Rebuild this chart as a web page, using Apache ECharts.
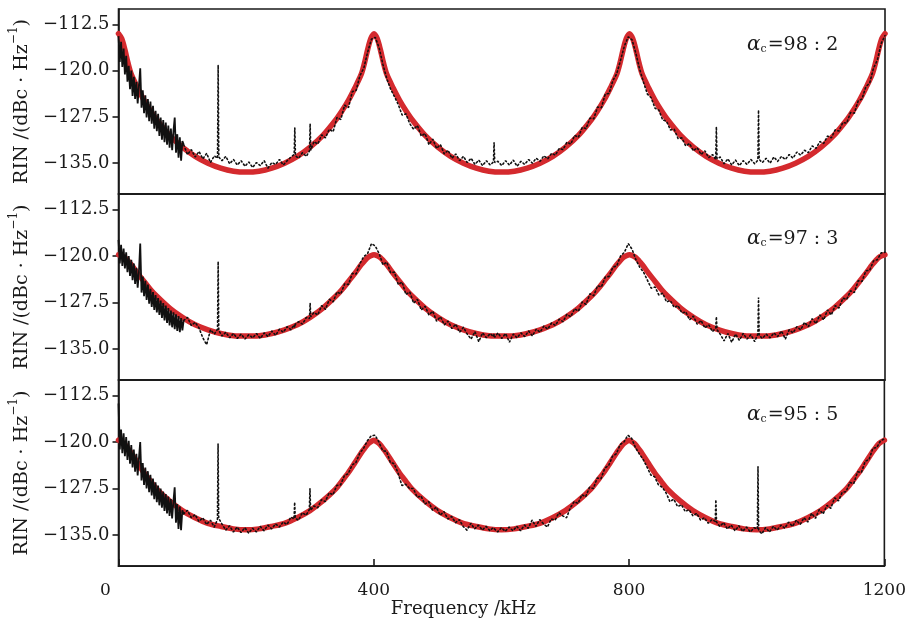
<!DOCTYPE html>
<html>
<head>
<meta charset="utf-8">
<script src="https://cdn.jsdelivr.net/npm/echarts@6/dist/echarts.min.js"></script>
<style>html,body{margin:0;padding:0;background:#fff}#c{width:909px;height:619px}</style>
</head>
<body>
<div id="c"></div>
<script>
// ---------- data ----------
const xTicks = [0, 400, 800, 1200];
const yTicks = [-135, -127.5, -120, -112.5];
const panelLabels = ['98 : 2', '97 : 3', '95 : 5'];

// fitted model (red) sample frequencies, kHz
const fitFreq = [0,5,10,15,20,30,40,50,60,80,100,120,140,160,180,200,220,240,260,280,300,320,340,350,360,370,380,385,390,395,400,
405,410,415,420,430,440,450,460,480,500,520,540,560,580,600,620,640,660,680,700,720,740,750,760,770,780,785,790,795,800,
805,810,815,820,830,840,850,860,880,900,920,940,960,980,1000,1020,1040,1060,1080,1100,1120,1140,1150,1160,1170,1180,1185,1190,1195,1200];

const fit98 = [-114.0,-114.8,-116.6,-118.8,-120.6,-122.8,-124.8,-126.5,-128.0,-130.5,-132.4,-133.9,-135.0,-135.8,-136.3,-136.45,-136.3,-135.8,-135.0,-133.9,-132.4,-130.5,-128.0,-126.5,-124.8,-122.8,-120.6,-118.8,-116.6,-114.8,-114.0,
-114.8,-116.6,-118.8,-120.6,-122.8,-124.8,-126.5,-128.0,-130.5,-132.4,-133.9,-135.0,-135.8,-136.3,-136.45,-136.3,-135.8,-135.0,-133.9,-132.4,-130.5,-128.0,-126.5,-124.8,-122.8,-120.6,-118.8,-116.6,-114.8,-114.0,
-114.8,-116.6,-118.8,-120.6,-122.8,-124.8,-126.5,-128.0,-130.5,-132.4,-133.9,-135.0,-135.8,-136.3,-136.45,-136.3,-135.8,-135.0,-133.9,-132.4,-130.5,-128.0,-126.5,-124.8,-122.8,-120.6,-118.8,-116.6,-114.8,-114.0];

const fit97 = [-119.8,-119.95,-120.25,-120.8,-121.4,-122.8,-124.1,-125.4,-126.5,-128.4,-129.9,-131.1,-131.9,-132.5,-132.85,-132.9,-132.85,-132.5,-131.9,-131.1,-129.9,-128.4,-126.5,-125.4,-124.1,-122.8,-121.4,-120.8,-120.25,-119.95,-119.8,
-119.95,-120.25,-120.8,-121.4,-122.8,-124.1,-125.4,-126.5,-128.4,-129.9,-131.1,-131.9,-132.5,-132.85,-132.9,-132.85,-132.5,-131.9,-131.1,-129.9,-128.4,-126.5,-125.4,-124.1,-122.8,-121.4,-120.8,-120.25,-119.95,-119.8,
-119.95,-120.25,-120.8,-121.4,-122.8,-124.1,-125.4,-126.5,-128.4,-129.9,-131.1,-131.9,-132.5,-132.85,-132.9,-132.85,-132.5,-131.9,-131.1,-129.9,-128.4,-126.5,-125.4,-124.1,-122.8,-121.4,-120.8,-120.25,-119.95,-119.8];

const fit95 = [-119.7,-120.0,-120.4,-121.1,-121.8,-123.4,-124.95,-126.3,-127.6,-129.5,-131.05,-132.2,-133.1,-133.6,-134.0,-134.15,-134.0,-133.6,-133.1,-132.2,-131.05,-129.5,-127.6,-126.3,-124.95,-123.4,-121.8,-121.1,-120.4,-120.0,-119.7,
-120.0,-120.4,-121.1,-121.8,-123.4,-124.95,-126.3,-127.6,-129.5,-131.05,-132.2,-133.1,-133.6,-134.0,-134.15,-134.0,-133.6,-133.1,-132.2,-131.05,-129.5,-127.6,-126.3,-124.95,-123.4,-121.8,-121.1,-120.4,-120.0,-119.7,
-120.0,-120.4,-121.1,-121.8,-123.4,-124.95,-126.3,-127.6,-129.5,-131.05,-132.2,-133.1,-133.6,-134.0,-134.15,-134.0,-133.6,-133.1,-132.2,-131.05,-129.5,-127.6,-126.3,-124.95,-123.4,-121.8,-121.1,-120.4,-120.0,-119.7];

// measured spectrum (black) sample frequencies, kHz; first 51 samples are the dense low-frequency part
const denseCount = 51;
const measFreq = [
0,2,4,6,8,10,12,14,16,18, 20,22,24,26,28,30,32,34,36,38, 40,42,44,46,48,50,52,54,56,58, 60,62,64,66,68,70,72,74,76,78, 80,82,84,86,88,90,92,94,96,98, 100,
102,108,114,120,126,132,138,144,150,155,156,157,
162,168,174,180,186,192,198,204,210,216,222,228,234,240,246,252,258,264,270,
275,276,277,282,288,294,299,300,301,
306,312,318,324,330,336,342,348,354,360,366,372,378,384,390,396,
402,408,414,420,426,432,438,444,450,456,462,468,474,480,486,492,498,
504,510,516,522,528,534,540,546,552,558,564,570,576,582,587,588,589,594,
600,606,612,618,624,630,636,642,648,654,660,666,672,678,684,690,696,
702,708,714,720,726,732,738,744,750,756,762,768,774,780,786,792,798,
804,810,816,822,828,834,840,846,852,858,864,870,876,882,888,894,900,
906,912,918,924,930,935,936,937,942,948,954,960,966,972,978,984,990,996,
1001,1002,1003,1008,1014,1020,1026,1032,1038,1044,1050,1056,1062,1068,1074,1080,1086,1092,1098,
1104,1110,1116,1122,1128,1134,1140,1146,1152,1158,1164,1170,1176,1182,1188,1194,1200];

const meas98 = [
-114.4,-118.6,-115.3,-119.4,-116.4,-120.6,-117.6,-121.8,-119.2,-123.0,
-120.0,-124.1,-121.0,-124.6,-121.8,-125.3,-122.4,-119.6,-126.0,-123.2,
-126.9,-124.0,-127.6,-124.6,-128.2,-125.0,-128.6,-125.7,-129.4,-126.5,
-129.8,-127.0,-130.6,-127.6,-131.2,-128.0,-131.6,-128.4,-132.0,-128.9,
-132.5,-129.4,-132.9,-129.8,-127.6,-133.3,-130.3,-134.1,-130.8,-134.6,
-131.4,
-132.0,-133.6,-132.8,-134.0,-133.1,-134.3,-133.4,-134.9,-133.8,-134.2,-119.1,-134.0,
-134.6,-133.9,-135.1,-134.4,-135.3,-134.6,-135.5,-134.8,-135.7,-134.9,-135.4,-134.6,-135.8,-134.9,-135.2,-134.4,-135.3,-134.6,-134.0,
-133.6,-129.3,-133.8,-134.2,-133.3,-133.9,-133.0,-128.6,-132.9,
-131.5,-131.9,-130.4,-130.9,-129.5,-129.9,-127.6,-127.9,-125.6,-126.0,-123.4,-123.2,-120.8,-119.6,-117.0,-114.9,
-114.6,-116.3,-119.0,-121.3,-123.0,-124.2,-125.5,-127.2,-127.0,-128.6,-129.5,-128.9,-130.6,-130.2,-132.0,-131.1,-132.6,
-132.0,-133.5,-132.9,-134.2,-133.5,-134.6,-133.9,-134.9,-134.2,-135.2,-134.5,-135.4,-134.6,-135.3,-134.8,-131.6,-134.9,-134.7,
-135.4,-134.6,-135.3,-134.5,-135.5,-134.7,-135.2,-134.4,-135.0,-134.2,-134.7,-133.8,-134.3,-133.4,-133.7,-132.6,-132.8,
-131.6,-131.9,-130.5,-130.8,-129.2,-129.4,-127.7,-127.8,-125.9,-126.0,-123.8,-123.7,-121.6,-120.5,-118.3,-116.0,-114.5,
-115.0,-117.2,-119.8,-121.9,-123.8,-124.4,-126.1,-126.4,-128.0,-128.2,-129.6,-129.5,-131.0,-130.9,-132.2,-131.8,-133.0,
-132.5,-133.6,-133.0,-134.1,-133.6,-134.4,-129.1,-134.3,-134.0,-135.1,-134.3,-135.3,-134.5,-135.4,-134.6,-135.2,-134.4,-135.1,
-134.5,-126.4,-134.4,-134.9,-134.2,-135.0,-134.0,-134.7,-133.9,-134.4,-133.6,-134.2,-133.2,-133.7,-132.9,-133.3,-132.2,-132.6,-131.5,
-131.8,-130.6,-130.9,-129.6,-129.8,-128.4,-128.5,-126.8,-126.9,-124.9,-124.6,-122.6,-122.0,-119.6,-118.3,-115.6,-114.3];

const meas97 = [
-117.4,-121.2,-118.2,-121.6,-118.8,-122.0,-119.4,-122.6,-120.0,-123.2,
-120.6,-123.9,-121.2,-124.5,-121.9,-125.1,-122.5,-118.0,-125.9,-123.3,
-126.5,-124.0,-127.1,-124.6,-127.7,-125.3,-128.2,-125.8,-128.7,-126.3,
-129.1,-126.8,-129.5,-127.2,-130.0,-127.6,-130.4,-128.0,-130.8,-128.4,
-131.2,-128.8,-131.5,-129.1,-131.8,-129.4,-132.1,-129.7,-132.3,-130.0,
-132.0,
-130.4,-129.9,-131.2,-130.7,-131.6,-133.2,-134.3,-131.9,-132.6,-131.8,-120.9,-132.0,
-132.9,-132.3,-133.2,-132.5,-133.3,-132.6,-133.4,-132.7,-133.2,-132.5,-133.3,-132.4,-133.0,-132.1,-132.8,-131.8,-132.3,-131.4,-131.9,
-131.1,-131.5,-131.0,-130.6,-131.0,-129.9,-130.1,-127.6,-129.8,
-129.1,-129.5,-128.0,-128.6,-127.0,-127.4,-125.8,-126.1,-124.5,-124.6,-122.8,-122.9,-121.2,-120.1,-119.6,-118.0,
-118.4,-119.6,-121.4,-121.0,-122.7,-122.6,-124.6,-124.2,-126.2,-125.8,-127.6,-127.0,-128.7,-128.1,-129.5,-128.9,-130.5,
-129.8,-131.1,-130.5,-131.7,-131.0,-132.3,-131.5,-132.6,-133.4,-132.2,-133.8,-132.4,-133.2,-132.5,-133.0,-132.6,-133.1,-132.4,
-133.3,-132.5,-133.9,-132.6,-133.2,-132.4,-133.0,-132.1,-132.9,-131.8,-132.3,-131.3,-131.8,-130.8,-131.2,-130.2,-130.6,
-129.4,-129.8,-128.5,-128.9,-127.4,-127.8,-126.1,-126.4,-124.8,-125.0,-123.4,-123.3,-121.8,-121.6,-120.0,-119.4,-118.0,
-118.9,-120.6,-121.8,-122.6,-123.9,-125.2,-125.0,-126.3,-126.0,-127.4,-127.2,-128.3,-128.0,-129.2,-129.0,-130.3,-129.7,
-131.0,-130.4,-131.6,-131.1,-132.2,-131.6,-129.8,-131.9,-132.6,-133.7,-132.5,-133.9,-132.6,-133.6,-132.5,-133.4,-132.7,-133.8,
-132.6,-126.7,-132.8,-133.3,-132.6,-133.2,-132.4,-133.0,-132.1,-133.4,-131.9,-132.4,-131.4,-131.9,-130.7,-131.4,-130.1,-130.9,-129.5,
-130.3,-128.7,-129.5,-128.0,-128.4,-126.8,-127.0,-125.6,-125.9,-124.0,-124.1,-122.4,-122.3,-120.8,-120.6,-119.5,-119.4];

const meas95 = [
-113.8,-121.2,-118.0,-121.8,-118.6,-122.3,-119.2,-122.9,-119.8,-123.5,
-120.5,-124.1,-121.2,-124.8,-121.9,-125.4,-122.6,-120.0,-126.2,-123.4,
-126.9,-124.1,-127.5,-124.7,-128.1,-125.3,-128.6,-125.9,-129.2,-126.5,
-129.7,-127.0,-130.2,-127.5,-130.6,-128.0,-131.1,-128.4,-131.5,-128.8,
-131.9,-129.2,-132.3,-129.6,-127.3,-133.0,-130.0,-134.0,-130.4,-134.2,
-131.0,
-131.6,-131.0,-132.2,-131.7,-132.8,-132.2,-133.3,-132.6,-133.7,-132.5,-120.3,-132.3,
-133.2,-134.2,-133.5,-134.5,-133.7,-134.6,-133.8,-134.7,-133.9,-134.5,-133.6,-134.3,-133.4,-134.0,-133.2,-133.7,-132.9,-133.3,-132.1,
-132.4,-129.7,-132.3,-132.6,-131.4,-131.8,-130.9,-127.5,-131.0,
-130.3,-130.6,-129.3,-129.6,-128.2,-128.5,-127.0,-126.9,-125.4,-125.1,-123.7,-123.3,-121.8,-121.0,-119.8,-119.0,
-118.9,-120.0,-121.4,-121.5,-123.3,-123.5,-125.0,-127.0,-126.8,-127.5,-127.5,-128.9,-128.7,-130.0,-129.6,-131.0,-130.5,
-131.8,-131.2,-132.4,-132.0,-133.0,-132.5,-133.6,-134.2,-133.1,-134.0,-133.4,-134.2,-133.6,-134.3,-133.8,-133.5,-133.9,-134.5,
-133.8,-134.4,-133.7,-134.3,-133.6,-134.3,-133.4,-133.9,-132.6,-133.6,-132.5,-133.2,-133.7,-132.4,-132.6,-131.4,-131.9,
-132.2,-130.6,-129.6,-129.9,-128.5,-128.8,-127.3,-127.5,-125.8,-125.9,-124.2,-123.8,-122.3,-121.9,-120.4,-120.0,-118.9,
-119.4,-120.9,-121.9,-122.8,-124.0,-125.3,-125.6,-126.9,-127.3,-128.2,-129.6,-129.2,-130.4,-130.1,-131.2,-130.9,-131.9,
-131.5,-132.6,-132.2,-133.1,-132.5,-132.8,-129.3,-132.9,-133.6,-133.0,-134.0,-133.4,-134.3,-133.5,-134.4,-133.7,-134.5,-133.8,
-134.0,-124.0,-134.2,-134.8,-133.8,-134.5,-133.6,-134.2,-133.4,-133.9,-132.9,-133.6,-132.6,-133.3,-132.2,-132.9,-131.5,-132.3,-130.9,
-131.6,-130.2,-130.7,-129.0,-129.5,-128.1,-128.0,-126.5,-126.7,-124.8,-124.9,-123.1,-122.8,-121.0,-120.9,-119.8,-119.5];

// ---------- chart ----------
const FONT = 'DejaVu Serif';
const INK = '#1a1a1a';
const RED = '#d42a2e';
const meas = [meas98, meas97, meas95];
const fits = [fit98, fit97, fit95];
const grids = [
  {left: 117, right: 24, top: 9, height: 185},
  {left: 117, right: 24, top: 194, height: 186},
  {left: 117, right: 24, top: 380, height: 187}
];
const fmtY = v => (v < 0 ? '\u2212' : '') + Math.abs(v).toFixed(1);
const fmtX = v => (v === 0 ? '{z|0}' : String(v));

const option = {
  animation: false,
  backgroundColor: '#fff',
  grid: grids.map(g => Object.assign({show: true, borderColor: INK, borderWidth: 1.6, backgroundColor: 'transparent'}, g)),
  xAxis: grids.map((g, i) => ({
    gridIndex: i, type: 'value', min: 0, max: 1200, interval: 400,
    splitLine: {show: false},
    axisLine: {show: true, lineStyle: {color: INK, width: 1.6}},
    axisTick: {show: i === 2, inside: true, length: 7, lineStyle: {color: INK, width: 1.6}},
    axisLabel: {show: i === 2, margin: 16, fontFamily: FONT, fontSize: 17, color: INK,
      customValues: xTicks, formatter: fmtX,
      rich: {z: {fontFamily: FONT, fontSize: 17, color: INK, padding: [0, 26, 0, 0]}}},
    name: i === 2 ? 'Frequency /kHz' : '',
    nameLocation: 'middle', nameGap: 31,
    nameTextStyle: {fontFamily: FONT, fontSize: 18, color: INK, padding: [0, 76, 0, 0]}
  })),
  yAxis: grids.map((g, i) => ({
    gridIndex: i, type: 'value', min: -140, max: -110,
    splitLine: {show: false},
    axisLine: {show: true, lineStyle: {color: INK, width: 1.6}},
    axisTick: {show: true, inside: false, length: 6, customValues: yTicks, lineStyle: {color: INK, width: 1.6}},
    axisLabel: {customValues: yTicks, formatter: fmtY, margin: 9, fontFamily: FONT, fontSize: 18, color: INK},
    name: '{t|RIN /(dBc \u00b7 Hz}{s|\u22121}{t|)}',
    nameLocation: 'middle', nameGap: 80, nameRotate: 90,
    nameTextStyle: {
      rich: {
        t: {fontFamily: FONT, fontSize: 19, color: INK, lineHeight: 24, verticalAlign: 'bottom'},
        s: {fontFamily: FONT, fontSize: 12, color: INK, lineHeight: 24, verticalAlign: 'top'}
      }
    }
  })),
  series: [],
  graphic: panelLabels.map((lab, i) => ({
    type: 'text', left: 747, top: [35, 229, 405][i], z: 100,
    style: {
      text: '{a|\u03b1}{c|c}{n|=' + lab + '}',
      rich: {
        a: {fontFamily: FONT, fontStyle: 'italic', fontSize: 20, fill: INK, lineHeight: 25, verticalAlign: 'bottom'},
        c: {fontFamily: FONT, fontSize: 11, fill: INK, lineHeight: 25, verticalAlign: 'bottom', padding: [0, 1, 0, 0]},
        n: {fontFamily: FONT, fontSize: 19, fill: INK, lineHeight: 25, verticalAlign: 'bottom'}
      }
    }
  }))
};

for (let i = 0; i < 3; i++) {
  const pts = measFreq.map((f, k) => [f, meas[i][k]]);
  option.series.push({
    type: 'line', xAxisIndex: i, yAxisIndex: i, z: 2,
    showSymbol: false, symbol: 'none', silent: true,
    data: fitFreq.map((f, k) => [f, fits[i][k]]),
    smooth: 0.3,
    lineStyle: {color: RED, width: 5.5, cap: 'round', join: 'round'}
  });
  // dense low-frequency noise band
  option.series.push({
    type: 'line', xAxisIndex: i, yAxisIndex: i, z: 3,
    showSymbol: false, symbol: 'none', silent: true,
    data: pts.slice(0, denseCount + 1),
    lineStyle: {color: '#111', width: 1.8}
  });
  // sparse dotted trace
  option.series.push({
    type: 'line', xAxisIndex: i, yAxisIndex: i, z: 3,
    showSymbol: false, symbol: 'none', silent: true,
    data: pts.slice(denseCount),
    lineStyle: {color: '#111', width: 1.6, type: [1.5, 2.6], cap: 'round'}
  });
}

const chart = echarts.init(document.getElementById('c'), null, {renderer: 'canvas'});
chart.setOption(option);
</script>
</body>
</html>
